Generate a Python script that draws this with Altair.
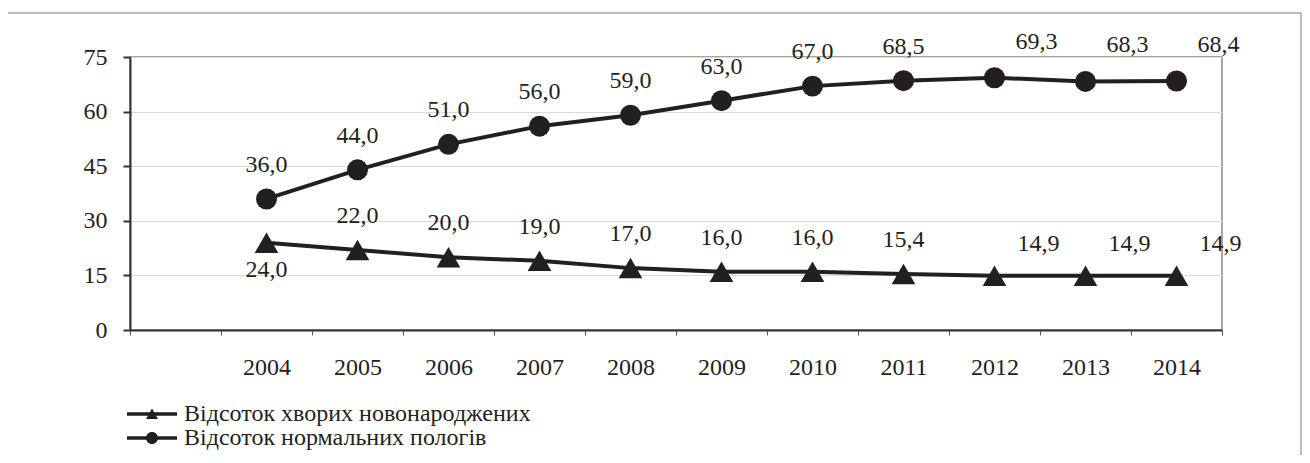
import altair as alt
import pandas as pd

years = ["2004", "2005", "2006", "2007", "2008", "2009", "2010", "2011", "2012", "2013", "2014"]
sick = [24.0, 22.0, 20.0, 19.0, 17.0, 16.0, 16.0, 15.4, 14.9, 14.9, 14.9]
normal = [36.0, 44.0, 51.0, 56.0, 59.0, 63.0, 67.0, 68.5, 69.3, 68.3, 68.4]
s_sick = "Відсоток хворих новонароджених"
s_norm = "Відсоток нормальних пологів"
y_ticks = [0, 15, 30, 45, 60, 75]

INK = "#231f20"
FONT = "Liberation Serif"
FS = 24

rows = []
for y, v in zip(years, sick):
    rows.append({"year": y, "value": v, "series": s_sick})
for y, v in zip(years, normal):
    rows.append({"year": y, "value": v, "series": s_norm})
df = pd.DataFrame(rows)

xdom = [" "] + years
X = alt.X("year:O", scale=alt.Scale(type="band", domain=xdom, paddingInner=0, paddingOuter=0),
          axis=alt.Axis(title=None, tickBand="extent", labelAngle=0, labelFont=FONT, labelFontSize=FS,
                        labelColor=INK, tickSize=5, tickColor="#555555", tickWidth=1,
                        domainColor="#333333", domainWidth=2, labelBaseline="middle",
                        labelPadding=32, grid=False))
Y = alt.Y("value:Q", scale=alt.Scale(domain=[0, 75]),
          axis=alt.Axis(title=None, values=y_ticks, labelFont=FONT, labelFontSize=FS, labelColor=INK,
                        tickSize=7, tickColor="#333333", tickWidth=2, domainColor="#333333",
                        domainWidth=2, labelPadding=16, grid=True, gridColor="#d9d9d9", gridWidth=1))

base = alt.Chart(df).encode(x=X, y=Y)

frame = alt.Chart(pd.DataFrame({"k": [0]})).mark_rect(
    fill="transparent", stroke="#a6a6a6", strokeWidth=1.5
).encode(x=alt.value(-123), x2=alt.value(1171), y=alt.value(-44), y2=alt.value(420))

lines = base.mark_line(color=INK, strokeWidth=4).encode(detail="series:N")

tri = base.transform_filter(alt.datum.series == s_sick).mark_point(
    shape="triangle-up", filled=True, color=INK, opacity=1, size=560)
circ = base.transform_filter(alt.datum.series == s_norm).mark_circle(
    color=INK, opacity=1, size=440)

lab = base.transform_calculate(
    label="replace(format(datum.value, '.1f'), '.', ',')",
    yr="toNumber(datum.year)")
tstyle = dict(font=FONT, fontSize=FS, color=INK, baseline="middle", align="center")

n_lab1 = lab.transform_filter((alt.datum.series == s_norm) & (alt.datum.yr <= 2011)).mark_text(dy=-34, **tstyle).encode(text="label:N")
n_lab2 = lab.transform_filter((alt.datum.series == s_norm) & (alt.datum.yr >= 2012)).mark_text(dy=-36, dx=42, **tstyle).encode(text="label:N")
s_lab0 = lab.transform_filter((alt.datum.series == s_sick) & (alt.datum.yr == 2004)).mark_text(dy=27, **tstyle).encode(text="label:N")
s_lab1 = lab.transform_filter((alt.datum.series == s_sick) & (alt.datum.yr > 2004) & (alt.datum.yr <= 2011)).mark_text(dy=-34, **tstyle).encode(text="label:N")
s_lab2 = lab.transform_filter((alt.datum.series == s_sick) & (alt.datum.yr >= 2012)).mark_text(dy=-32, dx=44, **tstyle).encode(text="label:N")

# legend symbols: unit = 5px at symbolSize 100
p_tri = "M-5,-0.35H5V0.35H-5Z M-1.2,1L0,-1.1L1.2,1Z"
p_circ = "M-5,-0.35H5V0.35H-5Z M-1.2,0A1.2,1.2 0 1,1 1.2,0A1.2,1.2 0 1,1 -1.2,0Z"

legend_layer = alt.Chart(df).transform_filter("false").mark_point(filled=True, color=INK, opacity=1).encode(
    shape=alt.Shape("series:N", scale=alt.Scale(domain=[s_sick, s_norm], range=[p_tri, p_circ]),
                    legend=alt.Legend(title=None, orient="none", legendX=10, legendY=345,
                                      labelFont=FONT, labelFontSize=FS, labelColor=INK,
                                      symbolSize=100, rowPadding=-7, labelOffset=20,
                                      symbolStrokeWidth=0, symbolFillColor=INK, symbolOpacity=1,
                                      labelLimit=600))
)

chart = alt.layer(frame, lines, tri, circ, n_lab1, n_lab2, s_lab0, s_lab1, s_lab2, legend_layer).properties(
    width=1092, height=273,
    autosize=alt.AutoSizeParams(type="none"),
    padding={"left": 122, "top": 49, "right": 80, "bottom": 125},
    background="white",
).configure_view(stroke="#a6a6a6", strokeWidth=2)

chart.save("out.html", embed_options={"renderer": "svg", "actions": False})
